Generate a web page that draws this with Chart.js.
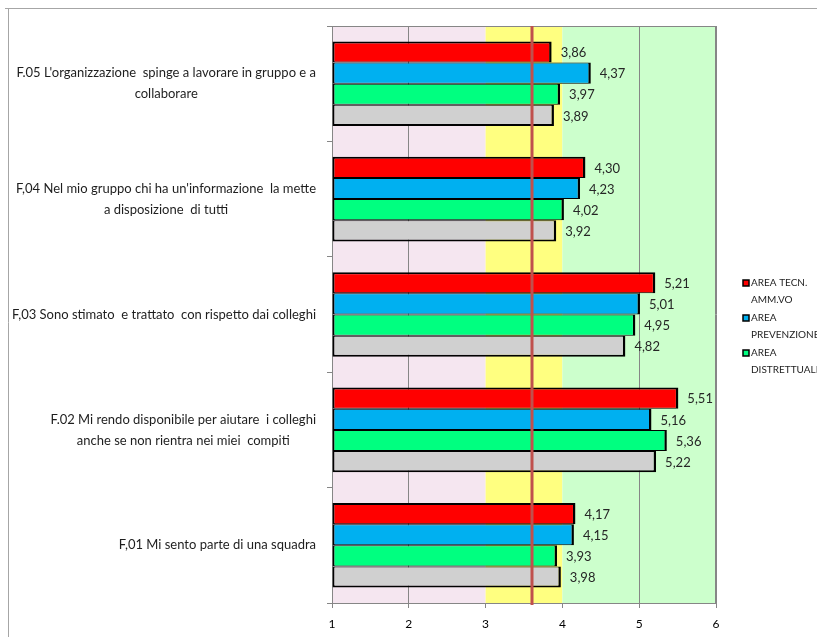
<!DOCTYPE html>
<html lang="it">
<head>
<meta charset="utf-8">
<title>Lavoro di gruppo</title>
<script src="https://cdn.jsdelivr.net/npm/chart.js@4.4.1/dist/chart.umd.min.js"></script>
<style>
  html, body { margin: 0; padding: 0; background: #fff; }
  #box { position: relative; width: 817px; height: 637px; overflow: hidden; }
</style>
</head>
<body>
<div id="box"><canvas id="grafico" width="817" height="637"></canvas></div>
<script>
// domande (dall'alto verso il basso), una riga per elemento
const domande = [
    ["F.05 L'organizzazione  spinge a lavorare in gruppo e a", "collaborare"],
    ["F,04 Nel mio gruppo chi ha un'informazione  la mette", "a disposizione  di tutti"],
    ["F,03 Sono stimato  e trattato  con rispetto dai colleghi"],
    ["F.02 Mi rendo disponibile per aiutare  i colleghi", "anche se non rientra nei miei  compiti"],
    ["F,01 Mi sento parte di una squadra"]
];
const aree = [["AREA TECN.", "AMM.VO"], ["AREA", "PREVENZIONE"], ["AREA", "DISTRETTUALE"], ["AZIENDA"]];
const tecnAmm      = [3.86, 4.30, 5.21, 5.51, 4.17];
const prevenzione  = [4.37, 4.23, 5.01, 5.16, 4.15];
const distrettuale = [3.97, 4.02, 4.95, 5.36, 3.93];
const azienda      = [3.89, 3.92, 4.82, 5.22, 3.98];
const scala = [1, 2, 3, 4, 5, 6];
const fasce = [1, 3, 4, 6];   // limiti delle fasce di sfondo
const soglia = 3.6;           // linea verticale di riferimento

const coloriFasce = ['#F5E6F0', '#FFFF80', '#CCFFCC'];
const coloriAree = ['#FF0000', '#00B0F0', '#00FF80', '#D0D0D0'];
const grigio = '#868686';
const font = 'Lato, "Open Sans", sans-serif';

// bordo: pieno sopra il primo e sotto l'ultimo, sottile tra una barra e l'altra
function bordo(i, n) {
    return { top: i === 0 ? 2 : 1, bottom: i === n - 1 ? 2 : 1, left: 2, right: 2.5 };
}

const serie = [tecnAmm, prevenzione, distrettuale, azienda];

const sfondo = {
    id: 'sfondo',
    beforeDraw(chart) {
        const { ctx, chartArea: a, scales: { x } } = chart;
        ctx.save();
        // cornice esterna
        ctx.strokeStyle = '#A6A6A6';
        ctx.lineWidth = 1;
        ctx.beginPath();
        ctx.moveTo(5, 8.5); ctx.lineTo(chart.width, 8.5);
        ctx.moveTo(8.5, 8); ctx.lineTo(8.5, chart.height);
        ctx.stroke();
        for (let i = 0; i < fasce.length - 1; i++) {
            const x0 = x.getPixelForValue(fasce[i]);
            const x1 = x.getPixelForValue(fasce[i + 1]);
            ctx.fillStyle = coloriFasce[i];
            ctx.fillRect(x0, a.top, x1 - x0, a.bottom - a.top);
        }
        ctx.restore();
    },
    beforeDatasetsDraw(chart) {
        const { ctx, chartArea: a } = chart;
        ctx.save();
        ctx.strokeStyle = grigio;
        ctx.lineWidth = 1;
        ctx.beginPath();
        ctx.moveTo(a.left, a.top + 0.5); ctx.lineTo(a.right, a.top + 0.5);
        ctx.moveTo(a.right - 0.5, a.top); ctx.lineTo(a.right - 0.5, a.bottom);
        ctx.stroke();
        ctx.restore();
    },
    afterDatasetsDraw(chart) {
        const { ctx, chartArea: a, scales: { x } } = chart;
        ctx.save();
        const xs = Math.round(x.getPixelForValue(soglia));
        ctx.strokeStyle = '#C0504D';
        ctx.lineWidth = 3;
        ctx.beginPath();
        ctx.moveTo(xs, a.top);
        ctx.lineTo(xs, a.bottom + 2);
        ctx.stroke();

        // valori a destra delle barre
        ctx.font = '13px ' + font;
        ctx.fillStyle = '#262626';
        ctx.textAlign = 'left';
        ctx.textBaseline = 'middle';
        chart.data.datasets.forEach((ds, d) => {
            chart.getDatasetMeta(d).data.forEach((el, i) => {
                ctx.fillText(ds.data[i].toFixed(2).replace('.', ','), el.x + 9, el.y + 1);
            });
        });
        ctx.restore();
    },
    afterDraw(chart) {
        const { ctx, scales: { y } } = chart;
        ctx.save();
        // domande: blocco allineato a destra, righe centrate
        ctx.font = '13px ' + font;
        ctx.fillStyle = '#1e1e1e';
        ctx.textAlign = 'center';
        ctx.textBaseline = 'middle';
        domande.forEach((righe, i) => {
            const larg = Math.max(...righe.map(r => ctx.measureText(r).width));
            const cx = y.right - 16 - larg / 2;
            const cy = y.getPixelForValue(i);
            righe.forEach((r, k) => {
                ctx.fillText(r, cx, cy + (k - (righe.length - 1) / 2) * 21);
            });
        });

        // legenda (solo le tre aree)
        ctx.font = '10px ' + font;
        ctx.textAlign = 'left';
        let yl = 283;
        for (let i = 0; i < 3; i++) {
            ctx.fillStyle = coloriAree[i];
            ctx.fillRect(743, yl - 3, 6, 6);
            ctx.strokeStyle = '#000';
            ctx.lineWidth = 1.5;
            ctx.strokeRect(743, yl - 3, 6, 6);
            ctx.fillStyle = '#1e1e1e';
            aree[i].forEach((r, k) => ctx.fillText(r, 751, yl + k * 17));
            yl += 35;
        }
        ctx.restore();
    }
};

new Chart(document.getElementById('grafico'), {
    type: 'bar',
    data: {
        labels: domande.map(r => r.join(' ')),
        datasets: serie.map((valori, i) => ({
            label: aree[i].join(' '),
            data: valori,
            base: 1,
            backgroundColor: coloriAree[i],
            borderColor: '#000',
            borderWidth: bordo(i, serie.length),
            borderSkipped: false,
            categoryPercentage: 0.733,
            barPercentage: 1
        }))
    },
    options: {
        indexAxis: 'y',
        responsive: false,
        animation: false,
        devicePixelRatio: 1,
        layout: { padding: { left: 0, right: 101, top: 26, bottom: 0 } },
        plugins: {
            legend: { display: false },
            tooltip: { enabled: false }
        },
        scales: {
            x: {
                min: scala[0],
                max: scala[scala.length - 1],
                afterBuildTicks: s => { s.ticks = scala.map(v => ({ value: v })); },
                afterFit: s => { s.height = 34; },
                ticks: { color: '#000', padding: 9, font: { family: font, size: 12 } },
                grid: {
                    color: c => (c.tick && (c.tick.value === 3 || c.tick.value === 4)) ? 'rgba(0,0,0,0)' : grigio,
                    tickColor: grigio,
                    tickLength: 5,
                    lineWidth: 1
                },
                border: { color: grigio }
            },
            y: {
                afterFit: s => { s.width = 332; },
                ticks: { display: false },
                grid: {
                    offset: true,
                    drawOnChartArea: false,
                    tickLength: 5,
                    color: grigio
                },
                border: { color: grigio }
            }
        }
    },
    plugins: [sfondo]
});
</script>
</body>
</html>
